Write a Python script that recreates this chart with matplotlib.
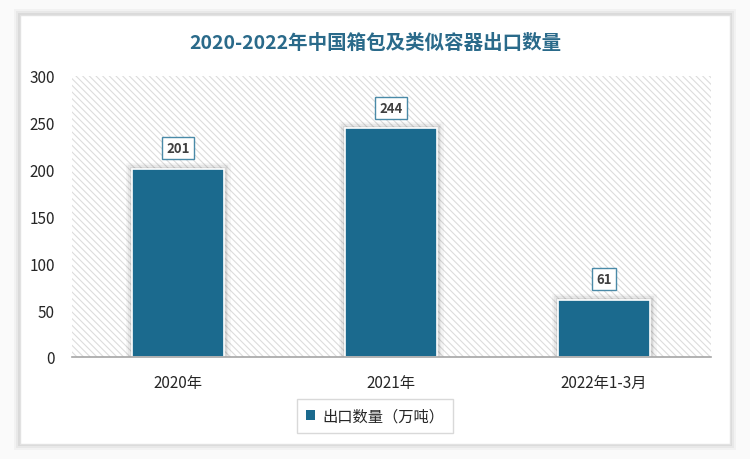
import matplotlib.pyplot as plt
from matplotlib.patches import Rectangle
import matplotlib.patheffects as pe

plt.rcParams['font.family'] = ['Noto Sans CJK SC', 'DejaVu Sans']
plt.rcParams['hatch.color'] = '#dcdcdc'
plt.rcParams['hatch.linewidth'] = 0.8

categories = ['2020年', '2021年', '2022年1-3月']
values = [201, 244, 61]
title = '2020-2022年中国箱包及类似容器出口数量'
series_name = '出口数量（万吨）'
bar_color = '#1b6a8e'

W, H = 750, 460
fig = plt.figure(figsize=(7.5, 4.6), dpi=100)
fig.patch.set_facecolor('#fafafa')

# outer card with soft shadow
for i, a in enumerate([0.03, 0.04, 0.06]):
    d = 6 - 2 * i
    fig.patches.append(Rectangle(((20 - d) / W, 1 - (445 + d) / H), (710 + 2 * d) / W, (429 + 2 * d) / H,
                                 transform=fig.transFigure, facecolor='black', alpha=a, edgecolor='none',
                                 zorder=-3))
fig.patches.append(Rectangle((20 / W, 1 - 445 / H), 710 / W, 429 / H, transform=fig.transFigure,
                             facecolor='white', edgecolor='#e2e2e2', lw=1, zorder=-2))

ax = fig.add_axes([71.5 / W, 1 - 358 / H, 639 / W, 281 / H])
ax.set_facecolor('white')
ax.add_patch(Rectangle((0, 0), 1, 1, transform=ax.transAxes, facecolor='white', hatch='\\\\\\\\\\',
                       edgecolor='#dcdcdc', lw=0, zorder=0))

x = list(range(len(categories)))
# soft glow-like shadow round each bar
glow = [pe.Stroke(linewidth=9, foreground='black', alpha=0.04),
        pe.Stroke(linewidth=6, foreground='black', alpha=0.05),
        pe.Stroke(linewidth=3.5, foreground='black', alpha=0.07),
        pe.Normal()]
bars = ax.bar(x, values, width=0.43, color=bar_color, edgecolor='white', linewidth=1.2, zorder=3)
for b in bars:
    b.set_path_effects(glow)

for xi, v in zip(x, values):
    ax.annotate(str(v), (xi, v), xytext=(0, 15), textcoords='offset points', ha='center', va='center',
                fontsize=9.5, fontweight='bold', color='#404040', zorder=5,
                bbox=dict(boxstyle='square,pad=0.3', facecolor='white', edgecolor='#4a8aa8', lw=1))

ax.set_xlim(-0.5, 2.5)
ax.set_ylim(0, 300)
ax.set_yticks([0, 50, 100, 150, 200, 250, 300])
ax.set_xticks(x)
ax.set_xticklabels(categories)
ax.tick_params(axis='both', length=0, labelsize=11, colors='#262626')
ax.tick_params(axis='x', pad=12)
ax.tick_params(axis='y', pad=12)
for s in ['top', 'right', 'left']:
    ax.spines[s].set_visible(False)
ax.spines['bottom'].set_color('#a6a6a6')
ax.spines['bottom'].set_linewidth(1.2)
ax.spines['bottom'].set_zorder(4)

fig.text(0.5, 1 - 43 / H, title, ha='center', va='center', fontsize=14, fontweight='bold', color='#2a6a8a')

handle = Rectangle((0, 0), 1, 1, facecolor=bar_color, edgecolor='none')
leg = fig.legend(handles=[handle], labels=[series_name], loc='center', bbox_to_anchor=(375 / W, 1 - 417 / H),
                 fontsize=11, frameon=True, fancybox=False, edgecolor='#d0d0d0',
                 handlelength=0.6, handleheight=0.6, handletextpad=0.5, borderpad=0.55, borderaxespad=0)
leg.get_frame().set_linewidth(1)
leg.set_zorder(6)
for t in leg.get_texts():
    t.set_color('#262626')

fig.savefig('out.png', dpi=100)
